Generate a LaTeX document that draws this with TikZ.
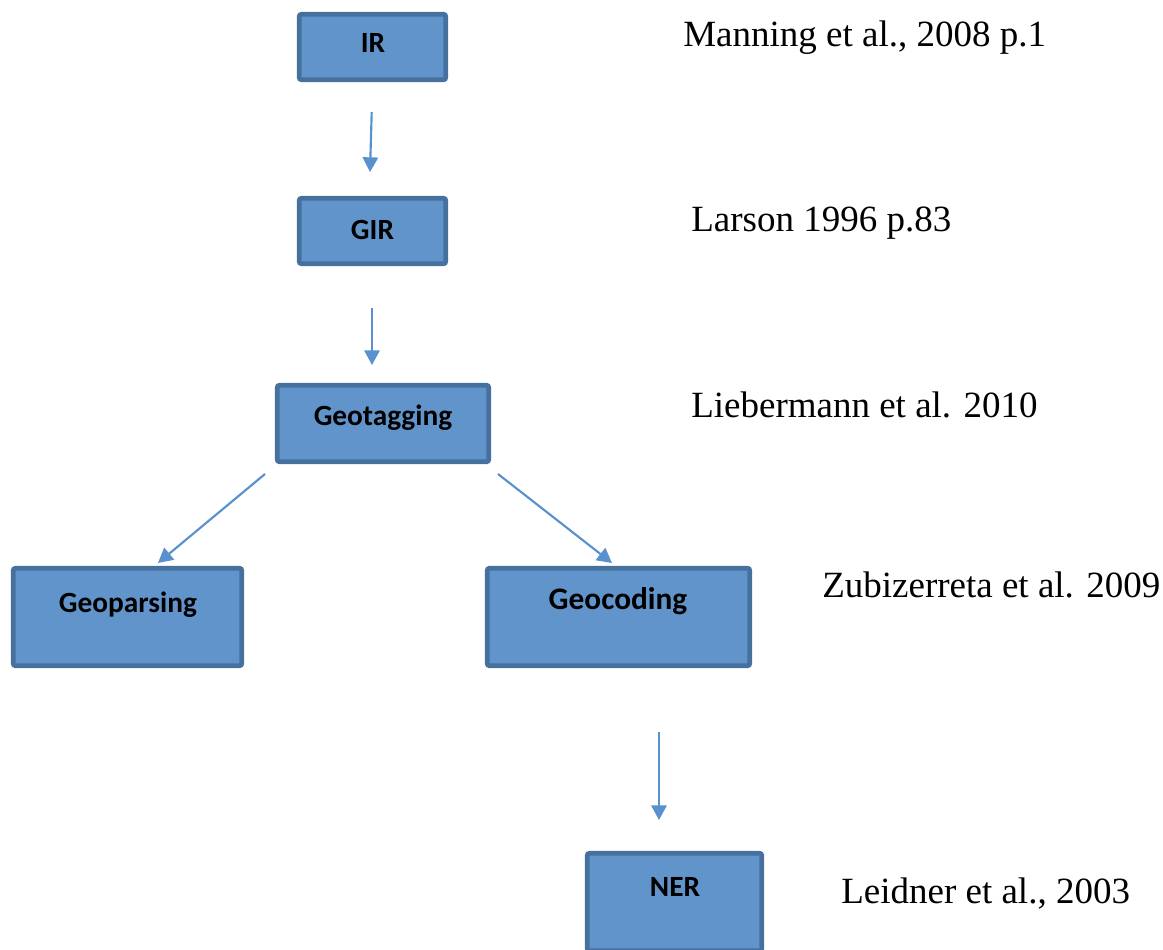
\documentclass[tikz,border=0pt]{standalone}
\usepackage{fontspec}
\setmainfont{Liberation Serif}
\newfontfamily\boxfont{Carlito}
\usetikzlibrary{arrows.meta,calc}
\definecolor{boxfill}{RGB}{97,148,202}
\definecolor{boxline}{RGB}{70,112,158}
\definecolor{arrcol}{RGB}{88,145,205}
\begin{document}
\begin{tikzpicture}[x=0.75pt,y=-0.75pt,
  box/.style={draw=boxline,fill=boxfill,line width=3.4pt,rounded corners=1.5pt,inner sep=0pt,outer sep=0pt},
  lbl/.style={font=\boxfont\bfseries\fontsize{22}{25}\selectfont,anchor=base,inner sep=0pt},
  cite/.style={font=\fontsize{27.75}{32}\selectfont,anchor=base west,inner sep=0pt},
  arr/.style={draw=arrcol,line width=1.6pt,-{Triangle[width=11.5pt,length=11pt]}}]
\useasboundingbox (0,0) rectangle (1163,949);
% boxes
\node[box,minimum width={146.5*0.75pt},minimum height={65.5*0.75pt}] (IR) at (372.5,47) {};
\node[box,minimum width={146.5*0.75pt},minimum height={65.5*0.75pt}] (GIR) at (372.5,231) {};
\node[box,minimum width={211.5*0.75pt},minimum height={76.5*0.75pt}] (GT) at (383,423.5) {};
\node[box,minimum width={228.5*0.75pt},minimum height={97.5*0.75pt}] (GP) at (127.5,617) {};
\node[box,minimum width={262.5*0.75pt},minimum height={97.5*0.75pt}] (GC) at (618.5,617) {};
\node[box,minimum width={174.5*0.75pt},minimum height={97.5*0.75pt}] (NER) at (674.5,902) {};
% box labels
\node[lbl] (IRt) at (373,53) {IR};
\node[lbl] (GIRt) at (372.5,239) {GIR};
\node[lbl] (GTt) at (383,425) {Geotagging};
\node[lbl] (GPt) at (128,612) {Geoparsing};
\node[lbl,font=\boxfont\bfseries\fontsize{23.5}{27}\selectfont] (GCt) at (618,609) {Geocoding};
\node[lbl] (NERt) at (675,896) {NER};
% citations
\node[cite] (c1) at (683,47) {Manning et al., 2008 p.1};
\node[cite] (c2) at (691,231) {Larson 1996 p.83};
\node[cite] (c3) at (691,417) {Liebermann et al. 2010};
\node[cite] (c4) at (822,597) {Zubizerreta et al. 2009};
\node[cite] (c5) at (841,903) {Leidner et al., 2003};
% arrows
\draw[arr] ($(IR.south)+(-0.8,32.25)$) -- ($(GIR.north)+(-2.5,-26.25)$);
\draw[arr] ($(GIR.south)+(-0.5,44.25)$) -- ($(GT.north)+(-11,-20.25)$);
\draw[arr] ($(GT.south)+(-118,12.25)$) -- ($(GP.north)+(30.5,-5.25)$);
\draw[arr] ($(GT.south)+(115,12.25)$) -- ($(GC.north)+(-6.5,-5.25)$);
\draw[arr] ($(GC.south)+(40.5,66.25)$) -- ($(NER.north)+(-15.5,-33.25)$);
\end{tikzpicture}
\end{document}
